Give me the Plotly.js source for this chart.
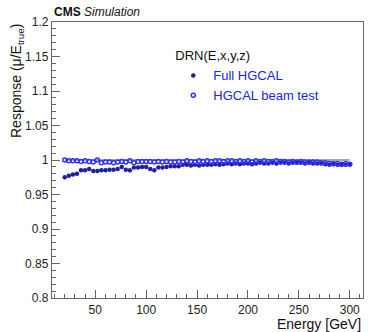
<!DOCTYPE html>
<html>
<head>
<meta charset="utf-8">
<script src="https://cdn.plot.ly/plotly-3.0.1.min.js"></script>
<style>html,body{margin:0;padding:0;background:#fff;}#chart{width:381px;height:332px;}</style>
</head>
<body>
<div id="chart"></div>
<script>
const energies = [20,24,28,32,36,40,44,48,52,56,60,64,68,72,76,80,84,88,92,96,100,104,108,112,116,120,124,128,132,136,140,144,148,152,156,160,164,168,172,176,180,184,188,192,196,200,204,208,212,216,220,224,228,232,236,240,244,248,252,256,260,264,268,272,276,280,284,288,292,296,300];
const fullHGCAL = [0.975,0.977,0.979,0.980,0.985,0.985,0.987,0.984,0.984,0.985,0.985,0.986,0.986,0.987,0.990,0.986,0.985,0.989,0.989,0.990,0.990,0.987,0.985,0.989,0.989,0.990,0.991,0.991,0.991,0.993,0.993,0.992,0.993,0.992,0.993,0.993,0.993,0.994,0.993,0.994,0.995,0.994,0.995,0.994,0.995,0.995,0.994,0.995,0.996,0.995,0.995,0.996,0.995,0.996,0.996,0.995,0.996,0.996,0.996,0.995,0.996,0.995,0.995,0.995,0.994,0.993,0.994,0.993,0.993,0.993,0.994];
const beamTest = [1.000,0.999,0.999,0.999,0.998,0.999,0.998,0.997,1.000,0.996,0.997,0.997,0.996,0.997,0.998,0.997,0.999,0.996,0.998,0.998,0.998,0.998,0.997,0.998,0.997,0.998,0.997,0.997,0.998,0.997,0.999,0.998,0.997,0.999,0.998,0.999,0.998,0.999,0.999,0.998,0.999,0.999,0.998,0.999,0.998,0.999,0.997,0.999,0.998,0.999,0.998,0.998,0.999,0.998,0.998,0.997,0.998,0.997,0.998,0.997,0.997,0.997,0.997,0.996,0.996,0.995,0.995,0.995,0.994,0.995,0.994];
const refLevel = 1.0;
const yTicks = [0.8,0.85,0.9,0.95,1,1.05,1.1,1.15,1.2];
const xTicks = [50,100,150,200,250,300];

const font = "'Liberation Sans', Arial, Helvetica, sans-serif";
const traces = [
  {x:[energies[0], energies[energies.length-1]], y:[refLevel, refLevel], mode:'lines',
   line:{color:'#8c8c8c', width:1.5}, showlegend:false, hoverinfo:'skip'},
  {x:energies, y:fullHGCAL, mode:'markers', name:'Full HGCAL',
   marker:{symbol:'circle', size:4.5, color:'#1f1fa3'}},
  {x:energies, y:beamTest, mode:'markers', name:'HGCAL beam test',
   marker:{symbol:'circle-open', size:4, color:'#3030ff', line:{width:1.5}}}
];
const axisCommon = {
  showgrid:false, zeroline:false, showline:true, linecolor:'#666', linewidth:1.2,
  mirror:true, ticks:'inside', ticklen:8, tickcolor:'#666', tickwidth:1,
  tickfont:{family:font, size:12, color:'#222'}
};
const layout = {
  width:381, height:332,
  margin:{l:52, r:18, t:22, b:34},
  paper_bgcolor:'#fff', plot_bgcolor:'#fff',
  font:{family:font},
  xaxis:Object.assign({}, axisCommon, {range:[7.5,313], tickvals:xTicks, ticktext:xTicks.map(String),
    ticklabelstandoff:0,
    minor:{dtick:10, tick0:0, ticks:'inside', ticklen:4, tickcolor:'#666'}}),
  yaxis:Object.assign({}, axisCommon, {range:[0.8,1.2], tickvals:yTicks, ticktext:yTicks.map(String),
    minor:{dtick:0.01, tick0:0.8, ticks:'inside', ticklen:4, tickcolor:'#666'}}),
  legend:{x:0.39, y:0.922, xanchor:'left', yanchor:'top', bgcolor:'rgba(0,0,0,0)',
    font:{family:font, size:13, color:'#2424e0'},
    title:{text:'DRN(E,x,y,z)', font:{family:font, size:13, color:'#111'}}},
  annotations:[
    {xref:'paper', yref:'paper', x:0, y:1, xanchor:'left', yanchor:'bottom', yshift:1, showarrow:false,
     text:'<b>CMS</b> <i>Simulation</i>', font:{family:font, size:12, color:'#111'}},
    {xref:'paper', yref:'paper', x:1, y:0, xanchor:'right', yanchor:'top', yshift:-16, showarrow:false,
     text:'Energy [GeV]', font:{family:font, size:14, color:'#111'}},
    {xref:'paper', yref:'paper', x:0, y:1, xanchor:'center', yanchor:'top', xshift:-35, showarrow:false,
     textangle:-90, text:'Response (\u03bc/E<sub>true</sub>)', font:{family:font, size:14, color:'#111'}}
  ]
};
Plotly.newPlot('chart', traces, layout, {staticPlot:true, displayModeBar:false});
</script>
</body>
</html>
